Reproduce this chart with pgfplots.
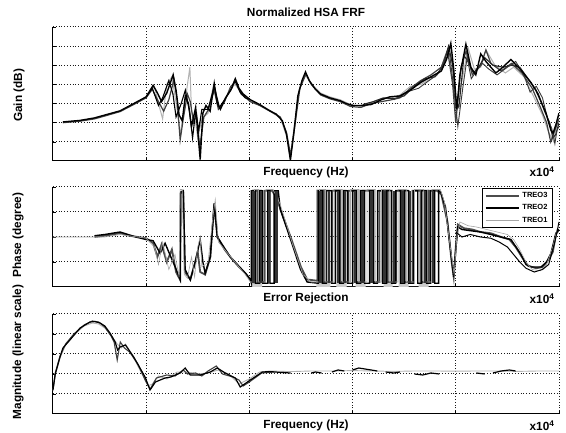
\documentclass[border=0pt]{standalone}
\usepackage{fontspec}
\setmainfont{Liberation Sans}
\usepackage{pgfplots}
\pgfplotsset{compat=1.18}
\newcommand{\lab}{\bfseries\fontsize{11.8}{13}\selectfont}
\pgfplotsset{
  panel/.style={
    scale only axis, width=506pt,
    xmin=0.049, xmax=2.5, xtick={0.5,1,1.5,2,2.5},
    xticklabels={}, yticklabels={},
    axis x line*=bottom, axis y line*=left,
    axis line style={line width=1pt,-},
    tick align=inside, major tick length=3pt,
    tick style={black,line width=0.6pt},
    grid=major,
    major grid style={black!90,line width=1pt,dash pattern=on 1pt off 1.8pt},
    clip mode=individual,
    unbounded coords=jump,
    every axis x label/.style={at={(axis description cs:0.5,0)},anchor=center,yshift=-11pt,font=\lab},
    every axis title/.style={at={(axis description cs:0.5,1)},anchor=center,font=\lab},
  },
}
\begin{document}
\begin{tikzpicture}
\path[use as bounding box] (0,0) rectangle (566pt,433pt);

% ================= TOP: Gain =================
\begin{axis}[panel, at={(53pt,272pt)}, anchor=south west, height=134pt,
  ymin=0, ymax=7, ytick={1,2,3,4,5,6,7},
  title={Normalized HSA FRF}, title style={yshift=15pt},
  xlabel={Frequency (Hz)},
  ylabel={Gain (dB)},
  every axis y label/.style={at={(axis description cs:-0.067,0.49)},anchor=center,rotate=90,font=\lab},
]
\addplot[gray!60, line width=1pt] coordinates {
(0.097,2.02)(0.18,2.1)(0.25,2.22)(0.30,2.38)(0.374,2.6)(0.44,2.97)(0.5,3.3)(0.54,3.9)(0.56,3.0)(0.58,2.2)(0.60,4.0)(0.625,4.4)(0.65,2.7)(0.665,1.4)(0.685,2.8)(0.712,4.9)(0.72,2.6)(0.74,2.0)(0.75,1.2)(0.77,2.2)(0.80,2.5)(0.825,3.9)(0.85,2.8)(0.87,2.9)(0.90,3.6)(0.93,4.0)(0.96,3.6)(1.005,3.15)(1.05,2.92)(1.10,2.6)(1.15,2.25)(1.18,1.3)(1.197,0.2)(1.215,1.6)(1.24,3.7)(1.27,4.5)(1.30,4.05)(1.345,3.55)(1.39,3.35)(1.44,3.2)(1.49,2.95)(1.54,2.85)(1.59,3.05)(1.64,3.25)(1.69,3.3)(1.73,3.45)(1.78,3.9)(1.83,4.0)(1.88,4.3)(1.92,4.6)(1.95,5.5)(1.975,5.9)(2.0,3.0)(2.03,4.2)(2.06,5.9)(2.09,4.8)(2.121,4.9)(2.146,5.8)(2.19,5.0)(2.24,4.6)(2.28,4.9)(2.33,4.4)(2.38,3.3)(2.42,2.4)(2.45,1.5)(2.475,1.0)(2.49,2.0)(2.5,2.4)};
\addplot[black!75, line width=1.2pt] coordinates {
(0.097,2.0)(0.18,2.08)(0.25,2.2)(0.30,2.35)(0.374,2.58)(0.44,2.95)(0.5,3.3)(0.53,3.75)(0.555,3.2)(0.585,2.6)(0.61,3.2)(0.635,4.25)(0.65,3.2)(0.665,1.1)(0.68,2.2)(0.70,3.5)(0.714,3.1)(0.73,2.0)(0.745,2.4)(0.76,0.7)(0.78,2.3)(0.80,2.65)(0.83,3.7)(0.85,2.7)(0.88,3.1)(0.91,3.9)(0.935,4.15)(0.96,3.5)(1.005,3.1)(1.05,2.9)(1.10,2.6)(1.15,2.3)(1.18,1.5)(1.20,0.3)(1.22,1.8)(1.245,3.8)(1.275,4.55)(1.30,4.0)(1.345,3.45)(1.39,3.25)(1.44,3.1)(1.49,2.85)(1.54,2.8)(1.59,3.0)(1.64,3.1)(1.69,3.2)(1.73,3.3)(1.78,3.8)(1.83,4.2)(1.88,4.5)(1.93,4.9)(1.96,5.8)(1.985,4.0)(2.0,2.0)(2.025,4.9)(2.05,5.75)(2.08,4.5)(2.12,5.0)(2.146,5.8)(2.17,5.1)(2.22,4.7)(2.27,5.1)(2.32,4.6)(2.37,3.8)(2.41,2.8)(2.44,2.0)(2.46,1.0)(2.48,1.6)(2.5,2.2)};
\addplot[black, line width=1.1pt] coordinates {
(0.5,3.35)(0.53,3.8)(0.56,2.9)(0.58,3.3)(0.61,4.2)(0.63,3.5)(0.645,2.3)(0.67,3.0)(0.69,3.7)(0.71,2.6)(0.725,1.2)(0.74,2.6)(0.755,1.6)(0.77,2.7)(0.80,2.7)(0.83,3.9)(0.855,2.8)(0.88,3.2)(0.915,3.8)(0.93,4.2)(0.955,3.6)(0.98,3.3)(1.005,3.2)};
\addplot[black!85, line width=1.1pt] coordinates {
(1.55,2.95)(1.6,3.1)(1.65,3.3)(1.7,3.25)(1.75,3.4)(1.8,3.9)(1.85,4.3)(1.9,4.4)(1.94,5.0)(1.965,6.0)(1.985,5.0)(2.0,3.2)(2.015,2.8)(2.04,5.5)(2.06,5.2)(2.085,4.6)(2.11,4.9)(2.14,5.4)(2.18,5.0)(2.23,4.9)(2.27,5.0)(2.31,4.9)(2.35,4.3)(2.40,3.5)(2.43,2.6)(2.455,2.0)(2.47,1.2)(2.485,1.4)(2.5,2.0)};
\addplot[gray!45!black, line width=0.9pt] coordinates {
(1.70,3.2)(1.76,3.6)(1.82,3.8)(1.87,4.2)(1.91,4.5)(1.945,5.2)(1.97,5.6)(1.99,3.8)(2.01,1.8)(2.035,3.9)(2.055,5.4)(2.075,4.3)(2.10,4.7)(2.13,5.1)(2.16,4.8)(2.2,4.5)(2.25,4.9)(2.29,5.2)(2.33,4.5)(2.36,3.6)(2.39,3.9)(2.42,3.3)(2.445,2.2)(2.465,1.7)(2.48,0.9)(2.49,1.6)(2.5,1.8)};
\addplot[black, line width=1.4pt] coordinates {
(0.097,2.04)(0.18,2.12)(0.25,2.25)(0.30,2.4)(0.374,2.62)(0.44,3.0)(0.5,3.35)(0.534,3.95)(0.555,3.55)(0.575,3.1)(0.60,3.55)(0.631,4.5)(0.645,3.7)(0.66,2.4)(0.675,2.1)(0.69,3.4)(0.705,3.0)(0.72,1.8)(0.74,2.8)(0.762,0.08)(0.775,2.5)(0.79,2.9)(0.81,2.6)(0.83,4.05)(0.845,3.0)(0.86,2.7)(0.885,3.3)(0.91,3.7)(0.932,4.3)(0.95,3.8)(0.97,3.5)(1.005,3.2)(1.05,2.95)(1.10,2.62)(1.13,2.45)(1.16,2.1)(1.18,1.4)(1.199,0.05)(1.215,1.4)(1.235,3.4)(1.255,4.2)(1.272,4.65)(1.29,4.2)(1.32,3.75)(1.345,3.5)(1.39,3.3)(1.44,3.15)(1.47,3.0)(1.50,2.9)(1.54,2.9)(1.59,2.95)(1.64,3.2)(1.68,3.35)(1.73,3.4)(1.78,3.7)(1.83,4.1)(1.88,4.4)(1.93,4.7)(1.955,5.3)(1.976,6.15)(1.99,4.8)(2.005,2.7)(2.02,4.5)(2.049,6.1)(2.073,4.9)(2.097,4.5)(2.121,5.6)(2.146,5.2)(2.17,4.9)(2.194,4.6)(2.218,4.8)(2.267,5.3)(2.316,4.75)(2.364,4.1)(2.388,3.7)(2.413,3.1)(2.437,2.5)(2.461,1.6)(2.471,1.45)(2.485,1.9)(2.5,2.5)};
\node[anchor=east,font=\lab,xshift=-1pt,yshift=-11pt] at (rel axis cs:1,0) {x10\textsuperscript{4}};
\end{axis}

% ================= MIDDLE: Phase =================
\begin{axis}[panel, at={(53pt,146pt)}, anchor=south west, height=100pt,
  ymin=0, ymax=4, ytick={1,2,3,4},
  ylabel={Phase (degree)},
  every axis y label/.style={at={(axis description cs:-0.069,0.52)},anchor=center,rotate=90,font=\lab},
  legend style={at={(axis description cs:0.988,0.99)},anchor=north east,
    font=\bfseries\fontsize{7.5}{8}\selectfont, draw=black, line width=0.9pt,
    fill=white, inner sep=2pt, row sep=1.5pt, legend cell align=left,
    nodes={inner xsep=3pt}},
  legend image code/.code={\draw[#1] (0pt,0pt) -- (33pt,0pt);},
]
\addplot[fill=gray!40, draw=none, forget plot] coordinates {
(1.012,0)(1.012,3.9)(1.062,3.9)(1.062,0)(1.325,0)(1.325,3.9)(1.393,3.9)(1.393,0)(1.422,0)(1.422,3.9)(1.471,3.9)(1.471,0)(1.515,0)(1.515,3.9)(1.563,3.9)(1.563,0)(1.65,0)(1.65,3.9)(1.694,3.9)(1.694,0)(1.723,0)(1.723,3.9)(1.772,3.9)(1.772,0)(1.82,0)(1.82,3.9)(1.869,3.9)(1.869,0)} \closedcycle;
\addplot[gray!60!black, line width=1.8pt] coordinates {
(0.25,2.0)(0.3,2.05)(0.35,2.12)(0.374,2.15)(0.42,2.05)(0.5,1.95)(0.534,1.75)(0.555,1.2)(0.575,1.7)(0.60,1.0)(0.625,1.5)(0.645,0.6)(0.665,0.28)(0.667,3.75)(0.68,3.8)(0.688,0.6)(0.714,0.3)(0.738,1.0)(0.75,1.4)(0.762,0.6)(0.786,0.5)(0.811,1.2)(0.83,3.3)(0.845,2.0)(0.88,1.5)(0.908,1.2)(0.95,0.8)(0.981,0.55)(1.005,0.3)(1.02,0.2)(1.02,3.85)(1.04,3.85)(1.04,0.2)(1.075,0.2)(1.075,3.85)(1.11,3.85)(1.13,3.6)(1.16,2.9)(1.2,2.0)(1.25,0.8)(1.28,0.3)(1.33,0.25)(1.33,3.85)(1.36,3.85)(1.36,0.2)(1.40,0.2)(1.40,3.85)(1.44,3.85)(1.44,0.2)(1.48,0.2)(1.48,3.85)(1.51,3.85)(1.51,0.2)(1.55,0.2)(1.55,3.85)(1.59,3.85)(1.59,0.2)(1.63,0.2)(1.63,3.85)(1.67,3.85)(1.67,0.2)(1.71,0.2)(1.71,3.85)(1.75,3.85)(1.75,0.2)(1.79,0.2)(1.79,3.85)(1.83,3.85)(1.83,0.2)(1.87,0.2)(1.87,3.85)(1.91,3.85)(1.93,3.7)(1.96,2.6)(1.98,1.0)(1.99,0.4)(2.0,1.6)(2.01,2.5)(2.04,2.35)(2.08,2.3)(2.12,2.2)(2.17,2.15)(2.22,2.0)(2.26,1.9)(2.29,1.6)(2.32,1.2)(2.35,0.85)(2.39,0.75)(2.42,0.8)(2.45,1.1)(2.47,1.4)(2.485,2.1)(2.5,2.3)};
\addlegendentry{TREO3}
\addplot[black, line width=1.4pt] coordinates {
(0.25,2.05)(0.3,2.1)(0.374,2.2)(0.45,2.0)(0.5,1.9)(0.534,1.85)(0.568,1.35)(0.592,1.75)(0.62,1.2)(0.641,0.8)(0.665,0.3)(0.668,3.8)(0.68,3.85)(0.689,0.7)(0.714,0.28)(0.738,1.0)(0.762,1.9)(0.775,1.0)(0.786,0.55)(0.811,1.2)(0.83,3.35)(0.845,2.0)(0.908,1.2)(0.981,0.55)(1.005,0.3)(1.01,0.15)(1.01,3.85)(1.03,3.85)(1.03,0.15)(1.05,0.15)(1.05,3.85)(1.065,3.85)(1.065,0.15)(1.09,0.15)(1.09,3.85)(1.10,3.85)(1.10,0.15)(1.12,0.15)(1.12,3.85)(1.14,3.85)(1.15,3.1)(1.20,1.9)(1.248,0.7)(1.28,0.2)(1.335,0.15)(1.335,3.85)(1.354,3.85)(1.354,0.15)(1.374,0.15)(1.374,3.85)(1.398,3.85)(1.398,0.15)(1.417,0.15)(1.417,3.85)(1.437,3.85)(1.437,0.15)(1.456,0.15)(1.456,3.85)(1.476,3.85)(1.476,0.15)(1.5,0.15)(1.5,3.85)(1.519,3.85)(1.519,0.15)(1.539,0.15)(1.539,3.85)(1.558,3.85)(1.558,0.15)(1.583,0.15)(1.583,3.85)(1.602,3.85)(1.602,0.15)(1.621,0.15)(1.621,3.85)(1.646,3.85)(1.646,0.15)(1.665,0.15)(1.665,3.85)(1.689,3.85)(1.689,0.15)(1.709,0.15)(1.709,3.85)(1.733,3.85)(1.733,0.15)(1.752,0.15)(1.752,3.85)(1.772,3.85)(1.772,0.15)(1.796,0.15)(1.796,3.85)(1.816,3.85)(1.816,0.15)(1.835,0.15)(1.835,3.85)(1.859,3.85)(1.859,0.15)(1.879,0.15)(1.879,3.85)(1.898,3.85)(1.898,0.15)(1.917,0.15)(1.917,3.85)(1.927,3.8)(1.95,3.2)(1.97,1.8)(1.99,0.4)(2.0,1.5)(2.01,2.4)(2.03,2.3)(2.073,2.25)(2.121,2.2)(2.17,2.1)(2.218,2.0)(2.267,1.9)(2.3,1.5)(2.316,1.3)(2.34,0.9)(2.364,0.8)(2.413,0.8)(2.44,1.0)(2.461,1.35)(2.485,2.15)(2.5,2.3)};
\addlegendentry{TREO2}
\addplot[gray!70, line width=0.6pt] coordinates {
(0.049,2.0)(0.25,2.0)(0.3,2.0)(0.374,2.1)(0.5,1.95)(0.54,1.6)(0.56,0.9)(0.58,1.8)(0.61,0.7)(0.64,1.3)(0.66,0.4)(0.665,3.9)(0.675,3.9)(0.685,0.5)(0.70,0.35)(0.72,1.2)(0.735,0.4)(0.75,1.6)(0.762,2.0)(0.77,0.8)(0.80,1.0)(0.825,2.9)(0.835,3.5)(0.85,1.8)(0.90,1.3)(0.98,0.5)(1.005,0.2)(1.025,0.2)(1.025,3.9)(1.045,3.9)(1.045,0.2)(1.08,0.2)(1.08,3.9)(1.115,3.9)(1.15,3.3)(1.21,1.7)(1.26,0.5)(1.30,0.2)(1.34,0.2)(1.34,3.9)(1.37,3.9)(1.37,0.2)(1.41,0.2)(1.41,3.9)(1.45,3.9)(1.45,0.2)(1.49,0.2)(1.49,3.9)(1.53,3.9)(1.53,0.2)(1.57,0.2)(1.57,3.9)(1.61,3.9)(1.61,0.2)(1.64,0.2)(1.64,3.9)(1.68,3.9)(1.68,0.2)(1.72,0.2)(1.72,3.9)(1.76,3.9)(1.76,0.2)(1.80,0.2)(1.80,3.9)(1.845,3.9)(1.845,0.2)(1.885,0.2)(1.885,3.9)(1.925,3.9)(1.945,3.4)(1.975,1.5)(1.992,0.5)(2.005,2.0)(2.02,2.6)(2.06,2.45)(2.1,2.4)(2.15,2.3)(2.2,2.2)(2.25,2.1)(2.28,1.9)(2.31,1.5)(2.34,1.0)(2.37,0.7)(2.41,0.65)(2.44,0.9)(2.47,1.6)(2.49,2.3)(2.5,2.4)};
\addlegendentry{TREO1}
\addplot[black!80, line width=2.2pt, forget plot] coordinates {
(1.02,0.15)(1.02,3.85)(1.02,nan)(1.058,0.15)(1.058,3.85)(1.058,nan)(1.095,0.15)(1.095,3.85)(1.095,nan)(1.132,0.15)(1.132,3.85)(1.132,nan)(1.345,0.15)(1.345,3.85)(1.345,nan)(1.385,0.15)(1.385,3.85)(1.385,nan)(1.43,0.15)(1.43,3.85)(1.43,nan)(1.465,0.15)(1.465,3.85)(1.465,nan)(1.51,0.15)(1.51,3.85)(1.51,nan)(1.548,0.15)(1.548,3.85)(1.548,nan)(1.592,0.15)(1.592,3.85)(1.592,nan)(1.655,0.15)(1.655,3.85)(1.655,nan)(1.70,0.15)(1.70,3.85)(1.70,nan)(1.742,0.15)(1.742,3.85)(1.742,nan)(1.78,0.15)(1.78,3.85)(1.78,nan)(1.85,0.15)(1.85,3.85)(1.85,nan)(1.89,0.15)(1.89,3.85)};
\addplot[black, line width=1pt, forget plot] coordinates {
(2.0,2.2)(2.03,2.0)(2.07,2.1)(2.12,2.0)(2.17,1.95)(2.21,1.8)(2.25,1.6)(2.28,1.3)(2.31,1.0)(2.34,0.75)(2.38,0.6)(2.42,0.7)(2.45,0.9)(2.48,1.8)(2.5,2.6)};
\node[anchor=east,font=\lab,xshift=-1pt,yshift=-12pt] at (rel axis cs:1,0) {x10\textsuperscript{4}};
\end{axis}

% ================= BOTTOM: Error Rejection =================
\begin{axis}[panel, at={(53pt,19pt)}, anchor=south west, height=100pt,
  ymin=0, ymax=5, ytick={1,2,3,4,5},
  title={Error Rejection}, title style={yshift=16pt},
  xlabel={Frequency (Hz)},
  ylabel={Magnitude (linear scale)},
  every axis y label/.style={at={(axis description cs:-0.069,0.62)},anchor=center,rotate=90,font=\lab},
]
\addplot[gray!60, line width=0.9pt] coordinates {
(0.049,1.15)(0.06,1.95)(0.083,2.8)(0.11,3.45)(0.15,3.95)(0.2,4.4)(0.24,4.55)(0.27,4.5)(0.3,4.3)(0.33,3.95)(0.36,3.5)(0.38,3.3)(0.40,3.5)(0.43,3.0)(0.47,2.2)(0.51,1.4)(0.53,1.5)(0.56,1.9)(0.6,1.75)(0.65,2.1)(0.7,2.1)(0.75,2.0)(0.8,2.05)(0.85,2.2)(0.9,2.0)(0.95,1.5)(1.0,1.75)(1.05,2.1)(1.1,2.15)(1.2,2.12)(1.3,2.15)(1.4,2.15)(1.5,2.17)(1.6,2.15)(1.7,2.13)(1.8,2.15)(1.9,2.15)(2.0,2.14)(2.1,2.15)(2.2,2.15)(2.3,2.13)(2.4,2.15)(2.5,2.15)};
\addplot[black!75, line width=1.1pt] coordinates {
(0.049,1.25)(0.06,2.05)(0.083,2.9)(0.11,3.5)(0.15,4.0)(0.2,4.45)(0.24,4.65)(0.27,4.6)(0.3,4.35)(0.33,3.9)(0.345,3.6)(0.36,2.7)(0.375,3.6)(0.395,3.3)(0.42,3.1)(0.46,2.5)(0.5,1.6)(0.52,1.25)(0.55,1.8)(0.6,1.95)(0.64,1.9)(0.68,2.2)(0.70,2.0)(0.74,2.05)(0.77,1.9)(0.80,2.15)(0.84,2.4)(0.87,2.0)(0.92,1.85)(0.95,1.7)(0.97,1.4)(1.0,1.6)(1.06,2.05)(1.12,2.1)};
\addplot[black, line width=1.2pt] coordinates {
(0.049,1.2)(0.06,2.0)(0.083,2.85)(0.097,3.3)(0.131,3.7)(0.18,4.3)(0.228,4.6)(0.252,4.62)(0.277,4.55)(0.3,4.4)(0.325,4.05)(0.35,3.6)(0.362,3.2)(0.374,3.35)(0.4,3.45)(0.44,2.85)(0.495,1.85)(0.519,1.2)(0.545,1.6)(0.592,1.8)(0.62,1.85)(0.665,2.05)(0.689,2.3)(0.714,1.95)(0.762,1.95)(0.811,2.1)(0.845,2.3)(0.883,2.05)(0.932,1.8)(0.956,1.35)(1.005,1.7)(1.063,2.1)(1.10,2.12)(1.15,2.08)(1.2,2.05)};
\addplot[black, line width=1.2pt] coordinates {
(1.30,2.05)(1.32,2.1)(1.35,2.05)(nan,nan)(1.40,2.1)(1.43,2.2)(1.46,2.15)(nan,nan)(1.50,2.2)(1.53,2.3)(1.56,2.25)(1.59,2.2)(1.62,2.15)(nan,nan)(1.66,2.1)(1.70,2.05)(1.73,2.1)(nan,nan)(1.80,2.0)(1.84,1.95)(1.88,2.05)(1.92,2.0)(nan,nan)(2.10,2.05)(2.14,2.0)(nan,nan)(2.18,2.05)(2.22,2.15)(2.26,2.2)(2.29,2.15)};
\node[anchor=east,font=\lab,xshift=-1pt,yshift=-12pt] at (rel axis cs:1,0) {x10\textsuperscript{4}};
\end{axis}
\end{tikzpicture}
\end{document}
